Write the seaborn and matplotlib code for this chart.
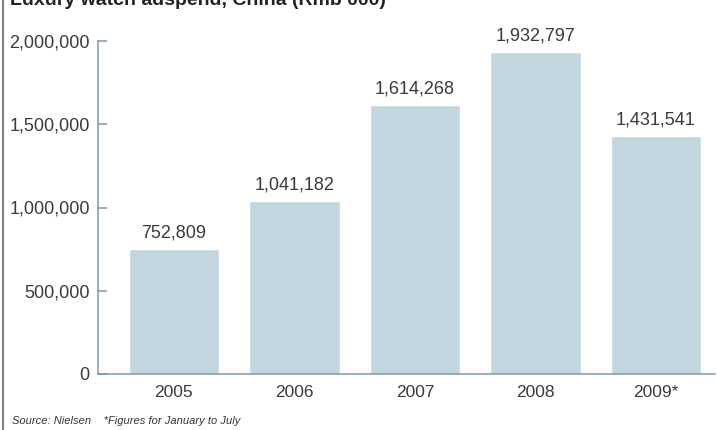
import matplotlib
matplotlib.use('Agg')
import matplotlib.pyplot as plt
import seaborn as sns
import pandas as pd
from matplotlib.lines import Line2D
from matplotlib.ticker import FuncFormatter

# Daten
years = ['2005', '2006', '2007', '2008', '2009*']
adspend = [752809, 1041182, 1614268, 1932797, 1431541]
yticks = [0, 500000, 1000000, 1500000, 2000000]

df = pd.DataFrame({'year': years, 'adspend': adspend})

sns.set_style('white')
plt.rcParams['font.family'] = ['Liberation Sans', 'DejaVu Sans']

fig = plt.figure(figsize=(7.17, 4.30), dpi=100)
ax = fig.add_axes([98 / 717, 1 - 374 / 430, 617 / 717, 333 / 430])

bar_color = '#c3d6e0'
spine_color = '#7d98aa'
text_color = '#3a3a3a'

sns.barplot(data=df, x='year', y='adspend', color=bar_color, width=0.75,
            saturation=1, ax=ax)

# Werte über den Balken
for i, v in enumerate(adspend):
    ax.annotate(f'{v:,}', (i, v), xytext=(0, 5.5), textcoords='offset points',
                ha='center', va='bottom', fontsize=13, color=text_color)

ax.set_xlim(-0.63, 4.49)
ax.set_ylim(0, 2000000)
ax.set_yticks(yticks)
ax.yaxis.set_major_formatter(FuncFormatter(lambda v, p: f'{int(v):,}'))
ax.set_xlabel('')
ax.set_ylabel('')

for s in ['top', 'right']:
    ax.spines[s].set_visible(False)
for s in ['left', 'bottom']:
    ax.spines[s].set_color(spine_color)
    ax.spines[s].set_linewidth(1.1)

ax.tick_params(axis='y', direction='in', length=6.5, width=1.1, color=spine_color,
               labelsize=13, labelcolor=text_color, pad=6, left=True)
ax.tick_params(axis='x', length=0, labelsize=12.5, labelcolor=text_color, pad=8)

# Titel (oben abgeschnitten wie im Original)
fig.text(10 / 717, 1 - 5 / 430, 'Luxury watch adspend, China (Rmb 000)',
         fontsize=14, fontweight='bold', color='#222222', ha='left', va='baseline')

# Quelle
fig.text(12 / 717, 1 - 421 / 430,
         'Source: Nielsen    *Figures for January to July',
         fontsize=8, style='italic', color='#333333', ha='left', va='center')

# Linke Randlinie
fig.add_artist(Line2D([3 / 717, 3 / 717], [0, 1], transform=fig.transFigure,
                      color='#808080', linewidth=1.5))

fig.savefig('out.png', dpi=100)
